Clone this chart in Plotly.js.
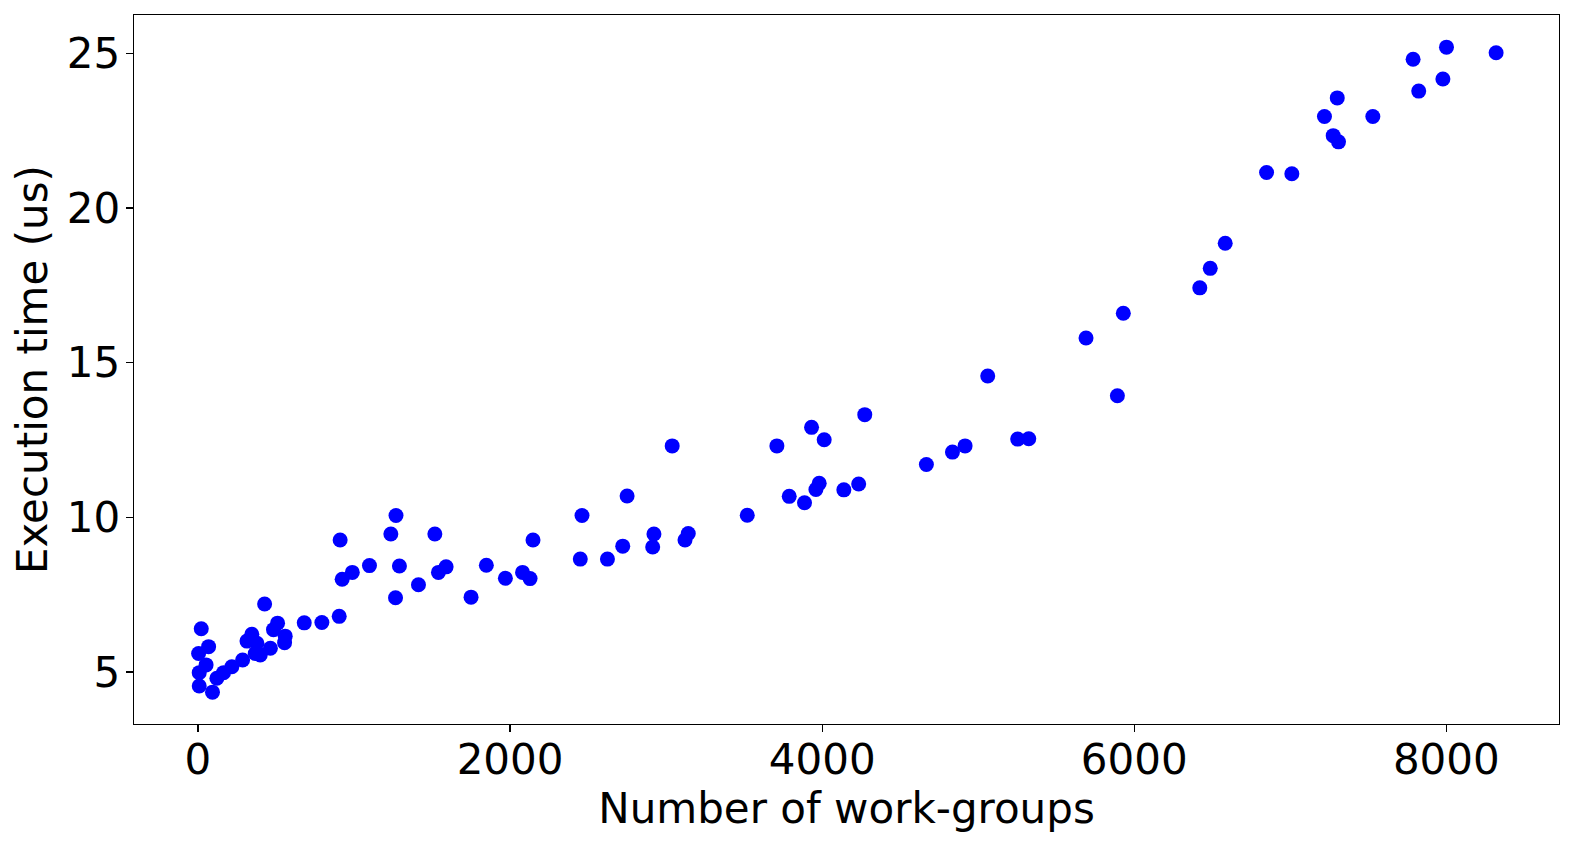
<!DOCTYPE html>
<html>
<head>
<meta charset="utf-8">
<script src="https://cdn.plot.ly/plotly-3.0.1.min.js"></script>
<style>html,body{margin:0;padding:0;background:#fff;}#chart{width:1577px;height:846px;}</style>
</head>
<body>
<div id="chart"></div>
<script>
const workGroups = [21, 68, 4, 52, 8, 8, 93, 121, 164, 217, 286, 314, 345, 378, 367, 399, 464, 427, 484, 510, 559, 555,
  681, 794, 905, 911, 924, 989, 1099, 1236, 1269, 1291, 1266, 1413, 1518, 1541, 1590, 1750, 1848, 1970, 2080, 2128,
  2147, 2450, 2461, 2624, 2722, 2750, 2914, 2922, 3039, 3121, 3142, 3520, 3710, 3789, 3887, 3932, 3960, 3981, 4013,
  4139, 4234, 4273, 4668, 4835, 4916, 5061, 5253, 5324, 5691, 5892, 5930, 6420, 6487, 6583, 6848, 7010, 7219, 7275,
  7301, 7309, 7529, 7787, 7823, 7978, 8001, 8319];
const execTime = [6.40, 5.82, 5.60, 5.23, 4.98, 4.55, 4.35, 4.80, 4.98, 5.17, 5.39, 6.00, 6.22, 5.93, 5.60, 5.55, 5.77, 7.20, 6.37, 6.58, 6.16, 5.95,
  6.59, 6.60, 6.80, 9.27, 8.00, 8.22, 8.44, 9.46, 10.06, 8.43, 7.40, 7.82, 9.46, 8.22, 8.40, 7.42, 8.45, 8.03, 8.22, 8.02,
  9.27, 8.65, 10.06, 8.65, 9.07, 10.69, 9.04, 9.46, 12.31, 9.27, 9.48, 10.07, 12.31, 10.68, 10.47, 12.91, 10.90, 11.10, 12.51,
  10.89, 11.08, 13.32, 11.71, 12.11, 12.31, 14.57, 12.53, 12.54, 15.80, 13.93, 16.60, 17.42, 18.05, 18.86, 21.15, 21.11, 22.96, 22.34,
  23.56, 22.14, 22.96, 24.81, 23.78, 24.17, 25.20, 25.02];
const xTicks = [0, 2000, 4000, 6000, 8000];
const yTicks = [5, 10, 15, 20, 25];
const xLabel = "Number of work-groups";
const yLabel = "Execution time (us)";

const font = {family: "DejaVu Sans", size: 42, color: "#000"};
Plotly.newPlot("chart", [{
  type: "scatter", mode: "markers", x: workGroups, y: execTime,
  marker: {color: "#0000ff", size: 15, line: {width: 0}}
}], {
  width: 1577, height: 846,
  margin: {l: 134, r: 18, t: 15, b: 122},
  paper_bgcolor: "#fff", plot_bgcolor: "#fff",
  showlegend: false,
  font: font,
  xaxis: {
    range: [-410, 8722], tickvals: xTicks, ticktext: xTicks.map(String),
    showgrid: false, zeroline: false, showline: true, mirror: true, linecolor: "#000", linewidth: 1.4,
    ticks: "outside", ticklen: 7, tickwidth: 1.3, tickcolor: "#000",
    ticklabelstandoff: -9,
    tickfont: font,
    title: {text: xLabel, font: font, standoff: 9}
  },
  yaxis: {
    range: [3.32, 26.24], tickvals: yTicks, ticktext: yTicks.map(String),
    showgrid: false, zeroline: false, showline: true, mirror: true, linecolor: "#000", linewidth: 1.4,
    ticks: "outside", ticklen: 7, tickwidth: 1.3, tickcolor: "#000",
    ticklabelstandoff: -3,
    tickfont: font,
    title: {text: yLabel, font: font, standoff: 6}
  }
}, {displayModeBar: false, staticPlot: true});
</script>
</body>
</html>
